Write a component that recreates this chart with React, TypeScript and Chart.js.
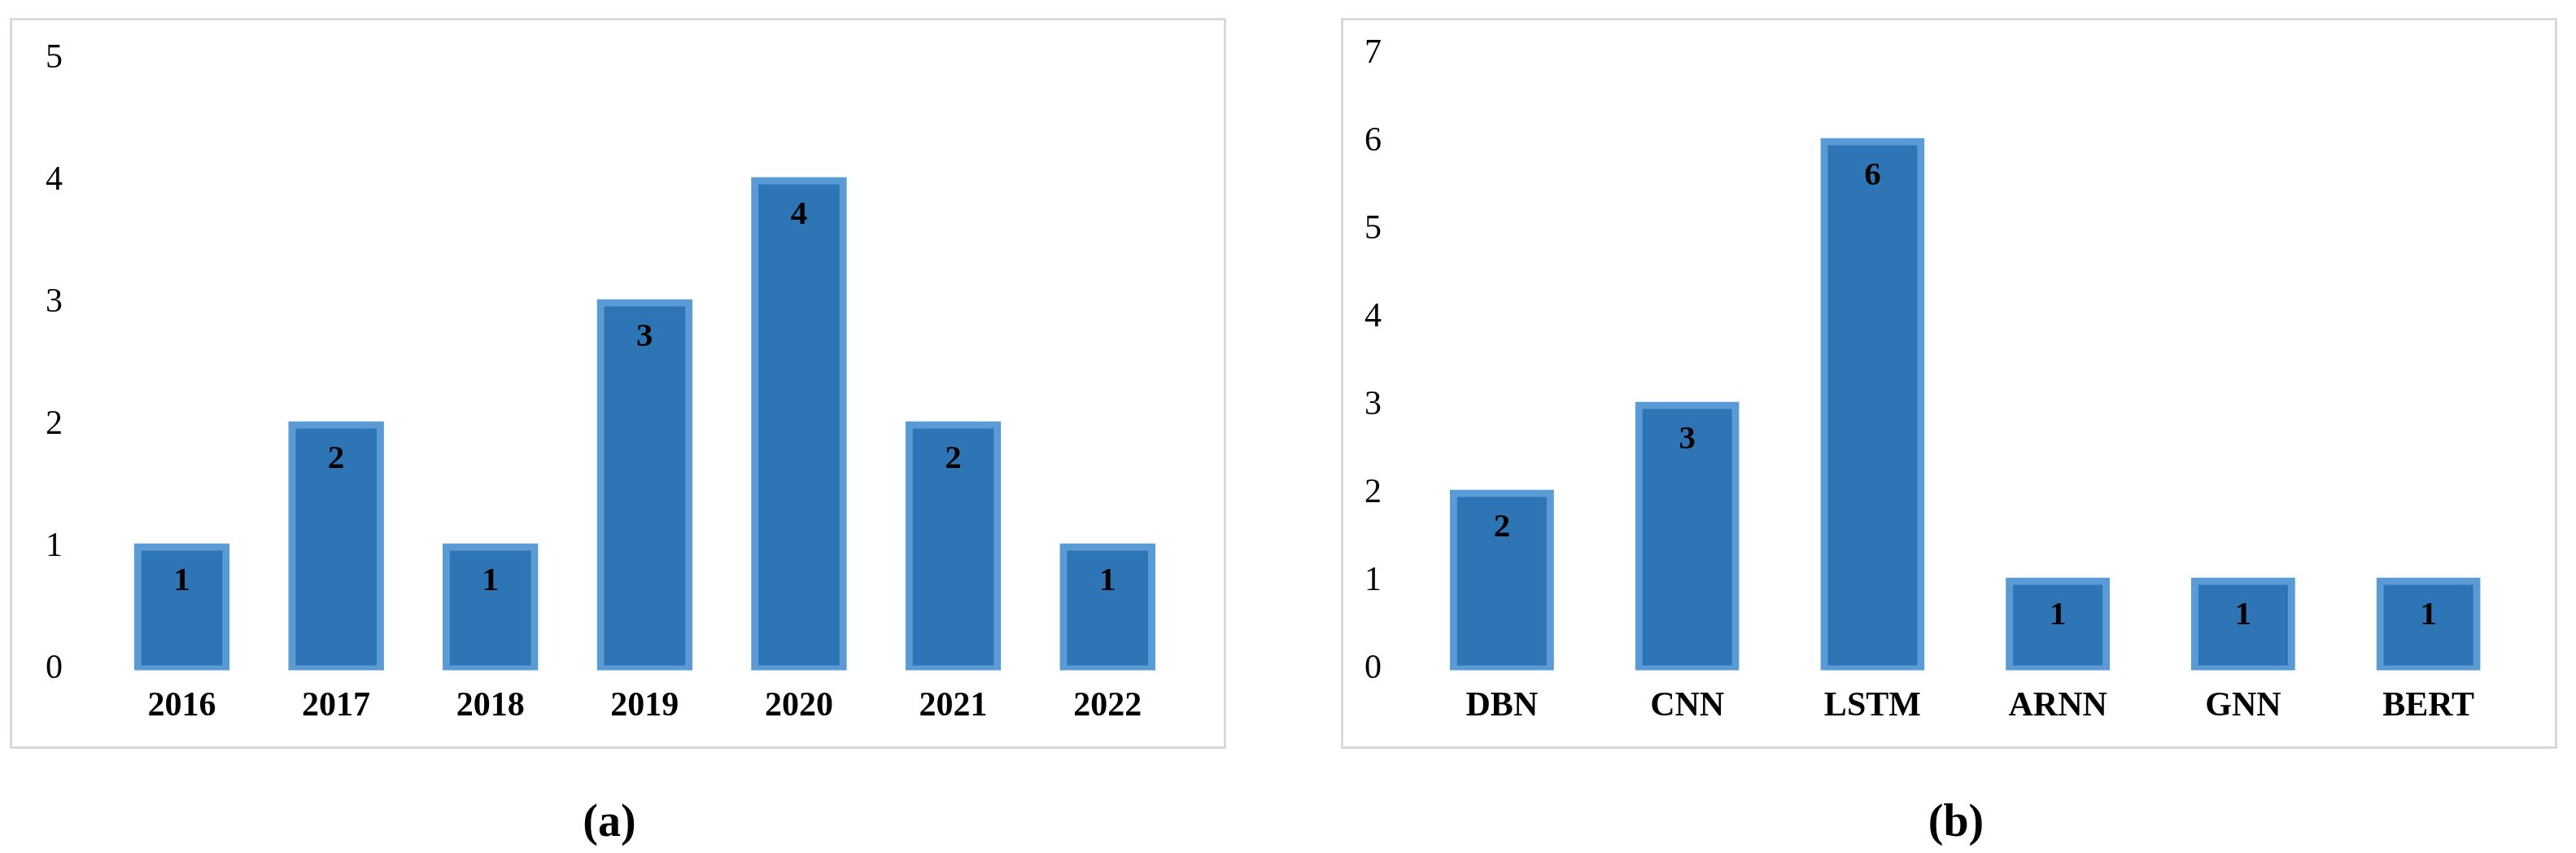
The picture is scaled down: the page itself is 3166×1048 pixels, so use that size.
import React, { useEffect, useRef } from "react";
import { Chart, registerables } from "chart.js";

Chart.register(...registerables);

// ---- data ----
const yearLabels = ["2016", "2017", "2018", "2019", "2020", "2021", "2022"];
const yearCounts = [1, 2, 1, 3, 4, 2, 1];
const yearAxisMax = 5;

const modelLabels = ["DBN", "CNN", "LSTM", "ARNN", "GNN", "BERT"];
const modelCounts = [2, 3, 6, 1, 1, 1];
const modelAxisMax = 7;

const captionLeft = "(a)";
const captionRight = "(b)";

// ---- styles ----
const FILL = "#2E75B6";
const EDGE = "#5B9BD5";
const FRAME = "#D9D9D9";
const FONT = "'Liberation Serif', 'Times New Roman', serif";
const CANVAS_W = 1489;
const CANVAS_H = 892;
const PLOT_BOTTOM = 797;
const BORDER_W = 9;

const valueLabelPlugin = {
  id: "valueLabels",
  afterDatasetsDraw(chart: any) {
    const ctx = chart.ctx;
    const meta = chart.getDatasetMeta(0);
    const data = chart.data.datasets[0].data;
    ctx.save();
    ctx.font = `bold 41px ${FONT}`;
    ctx.fillStyle = "#000000";
    ctx.textAlign = "center";
    ctx.textBaseline = "middle";
    meta.data.forEach((bar: any, i: number) => {
      ctx.fillText(String(data[i]), bar.x, bar.y + 42);
    });
    ctx.restore();
  },
};

type PanelProps = {
  labels: string[];
  values: number[];
  max: number;
  tickLeft: number; // left edge of y tick labels (canvas px)
  plotLeft: number;
  plotRight: number;
  plotTop: number;
  barPct: number;
  left: number;
  caption: string;
  captionCenter: number;
};

function Panel(p: PanelProps) {
  const ref = useRef<HTMLCanvasElement | null>(null);
  useEffect(() => {
    if (!ref.current) return;
    const chart = new Chart(ref.current, {
      type: "bar",
      data: {
        labels: p.labels,
        datasets: [
          {
            data: p.values,
            backgroundColor: FILL,
            borderColor: EDGE,
            borderWidth: BORDER_W,
            borderSkipped: false,
            barPercentage: p.barPct,
            categoryPercentage: 1,
            // border centred on the bar edge, like the original
            inflateAmount: BORDER_W / 2,
            clip: { left: false, top: false, right: false, bottom: 1.5 },
          },
        ],
      },
      options: {
        responsive: false,
        animation: false,
        devicePixelRatio: 1,
        layout: {
          padding: {
            top: p.plotTop,
            right: CANVAS_W - p.plotRight,
            left: p.tickLeft,
            bottom: 0,
          },
        },
        plugins: {
          legend: { display: false },
          tooltip: { enabled: false },
          title: { display: false },
        },
        scales: {
          x: {
            grid: { display: false, drawTicks: false },
            border: { display: false },
            ticks: {
              color: "#000000",
              padding: 21,
              font: { family: FONT, size: 42, weight: "bold" },
            },
            afterFit: (s: any) => {
              s.height = CANVAS_H - PLOT_BOTTOM;
            },
          },
          y: {
            min: 0,
            max: p.max,
            grid: { display: false, drawTicks: false },
            border: { display: false },
            ticks: {
              stepSize: 1,
              color: "#000000",
              padding: 0,
              crossAlign: "far",
              font: { family: FONT, size: 42, weight: "normal" },
            },
            afterFit: (s: any) => {
              s.width = p.plotLeft - p.tickLeft;
            },
          },
        },
      },
      plugins: [valueLabelPlugin],
    });
    return () => chart.destroy();
  }, []);

  return (
    <>
      <div
        style={{
          position: "absolute",
          left: p.left,
          top: 22,
          width: 1495,
          height: 898,
          border: `3px solid ${FRAME}`,
          boxSizing: "border-box",
          background: "#ffffff",
        }}
      >
        <canvas
          ref={ref}
          width={CANVAS_W}
          height={CANVAS_H}
          style={{ display: "block", width: CANVAS_W, height: CANVAS_H }}
        />
      </div>
      <div
        style={{
          position: "absolute",
          left: p.captionCenter - 150,
          top: 980,
          width: 300,
          textAlign: "center",
          fontFamily: FONT,
          fontWeight: "bold",
          fontSize: 56,
          lineHeight: "56px",
          color: "#000000",
        }}
      >
        {p.caption}
      </div>
    </>
  );
}

export default function App() {
  return (
    <div
      style={{
        position: "absolute",
        left: 0,
        top: 0,
        width: 3166,
        height: 1048,
        background: "#ffffff",
        overflow: "hidden",
      }}
    >
      <Panel
        labels={yearLabels}
        values={yearCounts}
        max={yearAxisMax}
        tickLeft={41}
        plotLeft={113.7}
        plotRight={1441}
        plotTop={47}
        barPct={0.573}
        left={12}
        caption={captionLeft}
        captionCenter={749}
      />
      <Panel
        labels={modelLabels}
        values={modelCounts}
        max={modelAxisMax}
        tickLeft={26}
        plotLeft={81}
        plotRight={1447.5}
        plotTop={41}
        barPct={0.5225}
        left={1648}
        caption={captionRight}
        captionCenter={2404}
      />
    </div>
  );
}
